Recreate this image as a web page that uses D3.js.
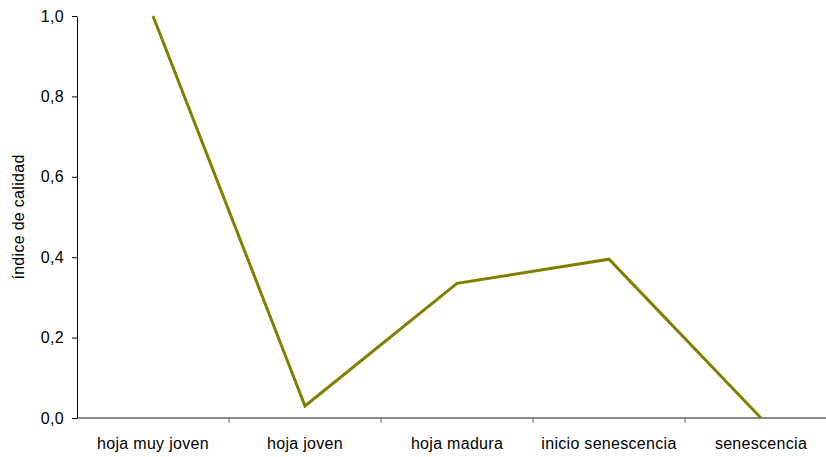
<!DOCTYPE html>
<html>
<head>
<meta charset="utf-8">
<script src="https://cdn.jsdelivr.net/npm/d3@7"></script>
<style>
  body { margin: 0; background: #fff; }
  text { font-family: "Liberation Sans", Arial, sans-serif; fill: #000; }
</style>
</head>
<body>
<div id="chart"></div>
<script>
var etapas = ["hoja muy joven", "hoja joven", "hoja madura", "inicio senescencia", "senescencia"];
var indice = [1.0, 0.03, 0.335, 0.395, 0.0];
var yTicks = [0, 0.2, 0.4, 0.6, 0.8, 1.0];

var width = 826, height = 457;
var margin = { top: 16, left: 77, bottom: 39 };
var bandW = 152;

var svg = d3.select("#chart").append("svg")
  .attr("width", width)
  .attr("height", height);

var x = d3.scaleBand()
  .domain(etapas)
  .range([margin.left, margin.left + bandW * etapas.length]);

var y = d3.scaleLinear()
  .domain([0, 1])
  .range([height - margin.bottom, margin.top]);

// eje x
var xAxis = svg.append("g")
  .attr("transform", "translate(0," + y(0) + ")");
xAxis.append("line")
  .attr("x1", margin.left).attr("x2", width)
  .attr("stroke", "#666").attr("stroke-width", 1.5);
xAxis.selectAll(".tick")
  .data(etapas.slice(1))
  .enter().append("line")
  .attr("x1", function(d) { return x(d); })
  .attr("x2", function(d) { return x(d); })
  .attr("y1", 0).attr("y2", 5)
  .attr("stroke", "#666");
xAxis.selectAll(".lbl")
  .data(etapas)
  .enter().append("text")
  .attr("x", function(d) { return x(d) + x.bandwidth() / 2; })
  .attr("y", 31)
  .attr("text-anchor", "middle")
  .style("font-size", "16px")
  .style("letter-spacing", "0.3px")
  .text(function(d) { return d; });

// eje y
var yAxis = svg.append("g")
  .attr("transform", "translate(" + margin.left + ",0)")
  .call(d3.axisLeft(y).tickValues(yTicks).tickSize(5).tickSizeOuter(0)
    .tickFormat(function(d) { return d3.format(".1f")(d).replace(".", ","); }));
yAxis.selectAll("path, line").attr("stroke", "#000");
yAxis.selectAll("text")
  .attr("x", -13)
  .style("font-size", "16px")
  .style("letter-spacing", "0.3px")
  .style("font-family", "'Liberation Sans', Arial, sans-serif");

svg.append("text")
  .attr("transform", "translate(24," + ((y(0) + y(1)) / 2) + ") rotate(-90)")
  .attr("text-anchor", "middle")
  .style("font-size", "16px")
  .style("letter-spacing", "0.3px")
  .text("índice de calidad");

var line = d3.line()
  .x(function(d, i) { return x(etapas[i]) + x.bandwidth() / 2; })
  .y(function(d) { return y(d); });

svg.append("path")
  .datum(indice)
  .attr("d", line)
  .attr("fill", "none")
  .attr("stroke", "#808000")
  .attr("stroke-width", 3);
</script>
</body>
</html>
